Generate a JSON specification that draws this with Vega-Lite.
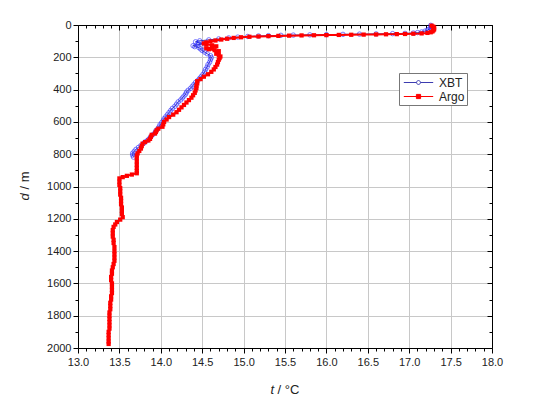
{
  "$schema": "https://vega.github.io/schema/vega-lite/v6.json",
  "width": 414,
  "height": 323,
  "autosize": {"type": "none"},
  "padding": {"left": 78, "top": 25, "right": 58, "bottom": 56},
  "background": "white",
  "data": {"values": [
    {"s":"XBT","d":2,"t":17.26},{"s":"XBT","d":8,"t":17.27},{"s":"XBT","d":14,"t":17.27},{"s":"XBT","d":20,"t":17.26},{"s":"XBT","d":26,"t":17.24},{"s":"XBT","d":32,"t":17.22},{"s":"XBT","d":38,"t":17.19},{"s":"XBT","d":43,"t":17.15},{"s":"XBT","d":47,"t":17.1},{"s":"XBT","d":50,"t":17.05},{"s":"XBT","d":52,"t":16.95},{"s":"XBT","d":53.5,"t":16.8},{"s":"XBT","d":55,"t":16.6},{"s":"XBT","d":56.5,"t":16.4},{"s":"XBT","d":58,"t":16.2},{"s":"XBT","d":59.5,"t":16.0},{"s":"XBT","d":61,"t":15.8},{"s":"XBT","d":62.5,"t":15.6},{"s":"XBT","d":64,"t":15.45},{"s":"XBT","d":66,"t":15.3},{"s":"XBT","d":68,"t":15.18},{"s":"XBT","d":71,"t":15.05},{"s":"XBT","d":75,"t":14.93},{"s":"XBT","d":80,"t":14.82},{"s":"XBT","d":86,"t":14.7},{"s":"XBT","d":92,"t":14.58},{"s":"XBT","d":98,"t":14.47},{"s":"XBT","d":104,"t":14.42},{"s":"XBT","d":110,"t":14.45},{"s":"XBT","d":116,"t":14.52},{"s":"XBT","d":122,"t":14.45},{"s":"XBT","d":128,"t":14.39},{"s":"XBT","d":134,"t":14.41},{"s":"XBT","d":140,"t":14.46},{"s":"XBT","d":148,"t":14.48},{"s":"XBT","d":158,"t":14.5},{"s":"XBT","d":168,"t":14.53},{"s":"XBT","d":178,"t":14.56},{"s":"XBT","d":190,"t":14.6},{"s":"XBT","d":202,"t":14.61},{"s":"XBT","d":215,"t":14.6},{"s":"XBT","d":230,"t":14.59},{"s":"XBT","d":245,"t":14.57},{"s":"XBT","d":260,"t":14.56},{"s":"XBT","d":275,"t":14.54},{"s":"XBT","d":290,"t":14.53},{"s":"XBT","d":305,"t":14.51},{"s":"XBT","d":318,"t":14.49},{"s":"XBT","d":330,"t":14.47},{"s":"XBT","d":342,"t":14.45},{"s":"XBT","d":355,"t":14.42},{"s":"XBT","d":368,"t":14.4},{"s":"XBT","d":380,"t":14.38},{"s":"XBT","d":392,"t":14.36},{"s":"XBT","d":404,"t":14.33},{"s":"XBT","d":416,"t":14.31},{"s":"XBT","d":428,"t":14.3},{"s":"XBT","d":440,"t":14.28},{"s":"XBT","d":452,"t":14.26},{"s":"XBT","d":464,"t":14.24},{"s":"XBT","d":476,"t":14.21},{"s":"XBT","d":490,"t":14.19},{"s":"XBT","d":503,"t":14.17},{"s":"XBT","d":516,"t":14.14},{"s":"XBT","d":529,"t":14.12},{"s":"XBT","d":542,"t":14.1},{"s":"XBT","d":555,"t":14.08},{"s":"XBT","d":568,"t":14.06},{"s":"XBT","d":580,"t":14.04},{"s":"XBT","d":592,"t":14.03},{"s":"XBT","d":605,"t":14.01},{"s":"XBT","d":618,"t":13.99},{"s":"XBT","d":631,"t":13.98},{"s":"XBT","d":644,"t":13.96},{"s":"XBT","d":656,"t":13.94},{"s":"XBT","d":668,"t":13.93},{"s":"XBT","d":680,"t":13.9},{"s":"XBT","d":692,"t":13.88},{"s":"XBT","d":704,"t":13.86},{"s":"XBT","d":714,"t":13.84},{"s":"XBT","d":724,"t":13.81},{"s":"XBT","d":734,"t":13.79},{"s":"XBT","d":746,"t":13.76},{"s":"XBT","d":758,"t":13.73},{"s":"XBT","d":770,"t":13.7},{"s":"XBT","d":782,"t":13.68},{"s":"XBT","d":794,"t":13.66},{"s":"XBT","d":806,"t":13.66},{"s":"XBT","d":818,"t":13.67},
    {"s":"Argo","d":4,"t":17.27},{"s":"Argo","d":10,"t":17.29},{"s":"Argo","d":16,"t":17.3},{"s":"Argo","d":22,"t":17.3},{"s":"Argo","d":28,"t":17.3},{"s":"Argo","d":34,"t":17.29},{"s":"Argo","d":40,"t":17.28},{"s":"Argo","d":45,"t":17.26},{"s":"Argo","d":49,"t":17.22},{"s":"Argo","d":52,"t":17.15},{"s":"Argo","d":54,"t":17.05},{"s":"Argo","d":55.5,"t":16.95},{"s":"Argo","d":56.5,"t":16.85},{"s":"Argo","d":57.5,"t":16.72},{"s":"Argo","d":58.5,"t":16.6},{"s":"Argo","d":59.5,"t":16.45},{"s":"Argo","d":60.5,"t":16.3},{"s":"Argo","d":61.5,"t":16.15},{"s":"Argo","d":62.5,"t":16.0},{"s":"Argo","d":63.5,"t":15.85},{"s":"Argo","d":64.5,"t":15.7},{"s":"Argo","d":66,"t":15.55},{"s":"Argo","d":67.5,"t":15.42},{"s":"Argo","d":69,"t":15.3},{"s":"Argo","d":71,"t":15.18},{"s":"Argo","d":73,"t":15.07},{"s":"Argo","d":76,"t":14.97},{"s":"Argo","d":80,"t":14.88},{"s":"Argo","d":85,"t":14.8},{"s":"Argo","d":90,"t":14.73},{"s":"Argo","d":96,"t":14.66},{"s":"Argo","d":102,"t":14.6},{"s":"Argo","d":108,"t":14.55},{"s":"Argo","d":114,"t":14.52},{"s":"Argo","d":120,"t":14.55},{"s":"Argo","d":126,"t":14.62},{"s":"Argo","d":132,"t":14.67},{"s":"Argo","d":138,"t":14.62},{"s":"Argo","d":144,"t":14.55},{"s":"Argo","d":150,"t":14.58},{"s":"Argo","d":156,"t":14.65},{"s":"Argo","d":162,"t":14.7},{"s":"Argo","d":170,"t":14.69},{"s":"Argo","d":178,"t":14.67},{"s":"Argo","d":186,"t":14.7},{"s":"Argo","d":195,"t":14.72},{"s":"Argo","d":205,"t":14.71},{"s":"Argo","d":215,"t":14.7},{"s":"Argo","d":230,"t":14.69},{"s":"Argo","d":245,"t":14.68},{"s":"Argo","d":260,"t":14.66},{"s":"Argo","d":275,"t":14.64},{"s":"Argo","d":290,"t":14.61},{"s":"Argo","d":305,"t":14.57},{"s":"Argo","d":320,"t":14.52},{"s":"Argo","d":335,"t":14.48},{"s":"Argo","d":348,"t":14.44},{"s":"Argo","d":362,"t":14.44},{"s":"Argo","d":376,"t":14.43},{"s":"Argo","d":390,"t":14.43},{"s":"Argo","d":405,"t":14.42},{"s":"Argo","d":420,"t":14.41},{"s":"Argo","d":435,"t":14.39},{"s":"Argo","d":450,"t":14.37},{"s":"Argo","d":465,"t":14.34},{"s":"Argo","d":480,"t":14.31},{"s":"Argo","d":495,"t":14.28},{"s":"Argo","d":510,"t":14.25},{"s":"Argo","d":525,"t":14.22},{"s":"Argo","d":540,"t":14.19},{"s":"Argo","d":555,"t":14.15},{"s":"Argo","d":570,"t":14.1},{"s":"Argo","d":585,"t":14.07},{"s":"Argo","d":600,"t":14.04},{"s":"Argo","d":615,"t":14.03},{"s":"Argo","d":630,"t":14.02},{"s":"Argo","d":642,"t":13.97},{"s":"Argo","d":652,"t":13.95},{"s":"Argo","d":662,"t":13.94},{"s":"Argo","d":672,"t":13.93},{"s":"Argo","d":680,"t":13.89},{"s":"Argo","d":692,"t":13.88},{"s":"Argo","d":705,"t":13.87},{"s":"Argo","d":715,"t":13.85},{"s":"Argo","d":725,"t":13.81},{"s":"Argo","d":735,"t":13.78},{"s":"Argo","d":750,"t":13.77},{"s":"Argo","d":765,"t":13.76},{"s":"Argo","d":780,"t":13.74},{"s":"Argo","d":795,"t":13.72},{"s":"Argo","d":808,"t":13.71},{"s":"Argo","d":825,"t":13.71},{"s":"Argo","d":845,"t":13.71},{"s":"Argo","d":865,"t":13.71},{"s":"Argo","d":885,"t":13.71},{"s":"Argo","d":905,"t":13.71},{"s":"Argo","d":918,"t":13.71},{"s":"Argo","d":926,"t":13.65},{"s":"Argo","d":934,"t":13.59},{"s":"Argo","d":942,"t":13.54},{"s":"Argo","d":950,"t":13.5},{"s":"Argo","d":970,"t":13.5},{"s":"Argo","d":990,"t":13.5},{"s":"Argo","d":1010,"t":13.51},{"s":"Argo","d":1030,"t":13.51},{"s":"Argo","d":1050,"t":13.51},{"s":"Argo","d":1070,"t":13.52},{"s":"Argo","d":1090,"t":13.52},{"s":"Argo","d":1110,"t":13.52},{"s":"Argo","d":1130,"t":13.53},{"s":"Argo","d":1150,"t":13.53},{"s":"Argo","d":1170,"t":13.53},{"s":"Argo","d":1190,"t":13.54},{"s":"Argo","d":1205,"t":13.51},{"s":"Argo","d":1220,"t":13.47},{"s":"Argo","d":1235,"t":13.45},{"s":"Argo","d":1250,"t":13.43},{"s":"Argo","d":1270,"t":13.42},{"s":"Argo","d":1290,"t":13.42},{"s":"Argo","d":1310,"t":13.42},{"s":"Argo","d":1330,"t":13.43},{"s":"Argo","d":1350,"t":13.43},{"s":"Argo","d":1375,"t":13.44},{"s":"Argo","d":1400,"t":13.44},{"s":"Argo","d":1420,"t":13.44},{"s":"Argo","d":1440,"t":13.44},{"s":"Argo","d":1460,"t":13.44},{"s":"Argo","d":1480,"t":13.43},{"s":"Argo","d":1500,"t":13.42},{"s":"Argo","d":1520,"t":13.41},{"s":"Argo","d":1540,"t":13.41},{"s":"Argo","d":1560,"t":13.4},{"s":"Argo","d":1580,"t":13.4},{"s":"Argo","d":1600,"t":13.41},{"s":"Argo","d":1620,"t":13.41},{"s":"Argo","d":1640,"t":13.41},{"s":"Argo","d":1660,"t":13.41},{"s":"Argo","d":1680,"t":13.4},{"s":"Argo","d":1700,"t":13.4},{"s":"Argo","d":1720,"t":13.39},{"s":"Argo","d":1740,"t":13.39},{"s":"Argo","d":1760,"t":13.39},{"s":"Argo","d":1780,"t":13.38},{"s":"Argo","d":1800,"t":13.38},{"s":"Argo","d":1820,"t":13.38},{"s":"Argo","d":1840,"t":13.38},{"s":"Argo","d":1860,"t":13.38},{"s":"Argo","d":1880,"t":13.38},{"s":"Argo","d":1900,"t":13.37},{"s":"Argo","d":1920,"t":13.37},{"s":"Argo","d":1940,"t":13.37},{"s":"Argo","d":1960,"t":13.37},{"s":"Argo","d":1975,"t":13.37}
  ]},
  "resolve": {"axis": {"x": "independent", "y": "independent"}},
  "layer": [
    {
      "transform": [{"filter": "datum.s === 'XBT'"}],
      "mark": {"type": "line", "strokeWidth": 1},
      "encoding": {
        "x": {"field": "t", "type": "quantitative", "scale": {"domain": [13, 18], "nice": false, "zero": false},
              "axis": {"orient": "bottom", "values": [13,13.5,14,14.5,15,15.5,16,16.5,17,17.5,18], "format": ".1f", "grid": true, "tickSize": 5, "labelPadding": 3,
                       "title": "t", "titleFontStyle": "italic", "titleAlign": "left", "titleBaseline": "alphabetic", "titleX": 192, "titleY": 45, "titleAngle": 0}},
        "y": {"field": "d", "type": "quantitative", "scale": {"domain": [0, 2000], "reverse": true, "nice": false},
              "axis": {"orient": "left", "values": [0,200,400,600,800,1000,1200,1400,1600,1800,2000], "format": "d", "grid": true, "tickSize": 5, "labelPadding": 2,
                       "title": "d", "titleFontStyle": "italic", "titleAngle": 270, "titleAlign": "left", "titleBaseline": "alphabetic", "titleX": -50, "titleY": 175}},
        "order": {"field": "d", "type": "quantitative"},
        "color": {"field": "s", "type": "nominal", "scale": {"domain": ["XBT", "Argo"], "range": ["#3c3cb0", "#ff0000"]},
                  "legend": {"title": null, "orient": "none", "legendX": 321, "legendY": 48, "strokeColor": "#777777", "fillColor": "white", "padding": 2, "rowPadding": 0,
                             "symbolType": "M-1,0H1", "symbolSize": 196, "symbolOffset": 10, "symbolStrokeWidth": 1, "labelFont": "Liberation Sans", "labelFontSize": 12, "labelColor": "#222", "labelOffset": 13,
                             "encode": {"symbols": {"update": {
                               "shape": {"signal": "datum.value === 'XBT' ? 'M-2.1,0H-0.28M0.28,0H2.1M-0.28,0A0.28,0.28 0 1,0 0.28,0A0.28,0.28 0 1,0 -0.28,0' : 'M-2.1,0H2.1M-0.3,-0.3H0.3V0.3H-0.3Z'"},
                               "fill": {"signal": "datum.value === 'XBT' ? 'transparent' : '#ff0000'"},
                               "stroke": {"signal": "datum.value === 'XBT' ? '#6a6aa8' : '#ff0000'"}
                             }}}}}
      }
    },
    {
      "transform": [{"filter": "datum.s === 'XBT'"}],
      "mark": {"type": "point", "shape": "circle", "filled": false, "stroke": "#2222ff", "strokeOpacity": 0.85, "strokeWidth": 1, "size": 20},
      "encoding": {
        "x": {"field": "t", "type": "quantitative", "scale": {"domain": [13, 18], "nice": false, "zero": false},
              "axis": {"orient": "bottom", "values": [13.1,13.2,13.3,13.4,13.6,13.7,13.8,13.9,14.1,14.2,14.3,14.4,14.6,14.7,14.8,14.9,15.1,15.2,15.3,15.4,15.6,15.7,15.8,15.9,16.1,16.2,16.3,16.4,16.6,16.7,16.8,16.9,17.1,17.2,17.3,17.4,17.6,17.7,17.8,17.9],
                       "labels": false, "grid": false, "domain": false, "tickSize": 3,
                       "title": "/ °C", "titleFontStyle": "normal", "titleAlign": "left", "titleBaseline": "alphabetic", "titleX": 199, "titleY": 45, "titleAngle": 0}},
        "y": {"field": "d", "type": "quantitative", "scale": {"domain": [0, 2000], "reverse": true, "nice": false},
              "axis": {"orient": "left", "values": [100,300,500,700,900,1100,1300,1500,1700,1900], "labels": false, "grid": false, "domain": false, "tickSize": 3,
                       "title": "/ m", "titleFontStyle": "normal", "titleAngle": 270, "titleAlign": "left", "titleBaseline": "alphabetic", "titleX": -50, "titleY": 164}}
      }
    },
    {
      "transform": [{"filter": "datum.s === 'Argo'"}],
      "mark": {"type": "line", "strokeWidth": 2},
      "encoding": {
        "x": {"field": "t", "type": "quantitative", "scale": {"domain": [13, 18], "nice": false, "zero": false},
              "axis": {"orient": "top", "values": [13,13.5,14,14.5,15,15.5,16,16.5,17,17.5,18], "labels": false, "grid": false, "domain": true, "tickSize": -5, "title": null}},
        "y": {"field": "d", "type": "quantitative", "scale": {"domain": [0, 2000], "reverse": true, "nice": false},
              "axis": {"orient": "right", "values": [0,200,400,600,800,1000,1200,1400,1600,1800,2000], "labels": false, "grid": false, "domain": true, "tickSize": -5, "title": null}},
        "order": {"field": "d", "type": "quantitative"},
        "color": {"field": "s", "type": "nominal", "scale": {"domain": ["XBT", "Argo"], "range": ["#3c3cb0", "#ff0000"]}}
      }
    },
    {
      "transform": [{"filter": "datum.s === 'Argo'"}],
      "mark": {"type": "point", "shape": "square", "filled": true, "color": "#ff0000", "opacity": 1, "size": 18},
      "encoding": {
        "x": {"field": "t", "type": "quantitative", "scale": {"domain": [13, 18], "nice": false, "zero": false},
              "axis": {"orient": "top", "values": [13.1,13.2,13.3,13.4,13.6,13.7,13.8,13.9,14.1,14.2,14.3,14.4,14.6,14.7,14.8,14.9,15.1,15.2,15.3,15.4,15.6,15.7,15.8,15.9,16.1,16.2,16.3,16.4,16.6,16.7,16.8,16.9,17.1,17.2,17.3,17.4,17.6,17.7,17.8,17.9],
                       "labels": false, "grid": false, "domain": false, "tickSize": -3, "title": null}},
        "y": {"field": "d", "type": "quantitative", "scale": {"domain": [0, 2000], "reverse": true, "nice": false},
              "axis": {"orient": "right", "values": [100,300,500,700,900,1100,1300,1500,1700,1900], "labels": false, "grid": false, "domain": false, "tickSize": -3, "title": null}}
      }
    }
  ],
  "config": {
    "view": {"stroke": null},
    "axis": {"labelFont": "Liberation Sans", "labelFontSize": 11, "labelColor": "#222222", "titleFont": "Liberation Sans", "titleFontSize": 13, "titleFontWeight": "normal", "titleColor": "#222222",
             "domainColor": "#000000", "domainWidth": 1, "tickColor": "#000000", "tickWidth": 1, "gridColor": "#c8c8c8", "gridWidth": 1, "labelFlush": false, "labelOverlap": false}
  }
}
